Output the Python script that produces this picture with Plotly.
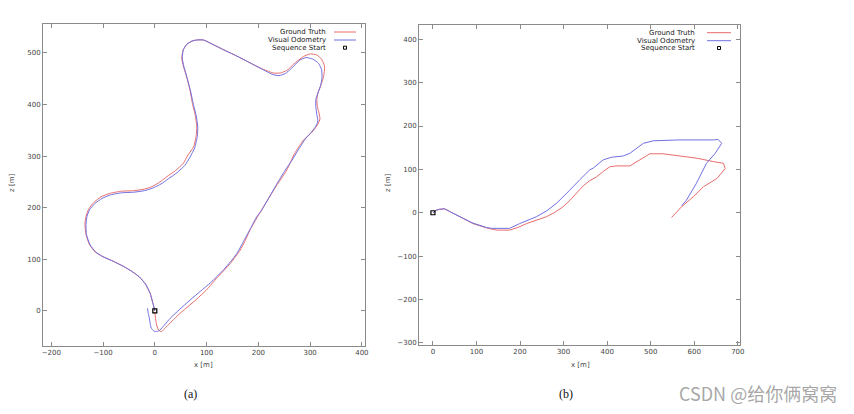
import plotly.graph_objects as go

# (a) trajectory, ground truth vs visual odometry (x, z in metres)
gt_a_x = [0, -3, -9, -18, -30, -45, -60, -80, -100, -115,
          -126, -133, -135, -133, -128, -118, -104, -86, -64, -41,
          -20, -5, 10, 23, 40, 55, 64, 75, 80, 81,
          78, 73, 68, 61, 55, 52, 55, 62, 72, 81,
          94, 113, 133, 152, 172, 191, 210, 229, 242, 255,
          268, 287, 300, 313, 322, 328, 326, 321, 315, 313,
          314, 317, 319, 315, 306, 296, 287, 270, 255, 232, 210,
          197, 184, 174, 165, 146, 120, 100, 80, 60, 45,
          36, 25, 18, 13, 7, 3, 1, 0]
gt_a_z = [0, 12, 34, 52, 66, 77, 86, 96, 105, 114,
          128, 148, 167, 183, 197, 210, 221, 228, 232, 233,
          236, 241, 250, 260, 272, 286, 302, 318, 340, 357,
          380, 400, 428, 455, 475, 490, 506, 517, 523, 525,
          525, 516, 506, 497, 487, 477, 468, 461, 461, 466,
          478, 493, 498, 496, 488, 474, 454, 438, 422, 410,
          396, 384, 372, 362, 349, 339, 331, 305, 273, 238, 202,
          180, 157, 135, 118, 92, 64, 41, 22, 5, -8,
          -17, -28, -35, -40, -37, -25, -12, -3]

vo_a_x = [0, -3, -9, -18, -30, -45, -60, -80, -100, -114,
          -125, -132, -133, -131, -126, -116, -102, -85, -63, -41,
          -20, -4, 12, 26, 43, 58, 68, 77, 82, 83,
          80, 75, 69, 62, 56, 53, 55, 62, 72, 81,
          94, 113, 133, 152, 172, 191, 210, 228, 240, 252,
          264, 280, 292, 305, 316, 322, 323, 320, 315, 311,
          311, 313, 315, 311, 302, 292, 277, 265, 252, 235,
          218, 205, 197, 185, 172, 159, 146, 133, 108, 88,
          68, 48, 30, 18, 10, 4, -2, -7, -9, -11,
          -13, -14]
vo_a_z = [0, 12, 34, 52, 66, 77, 86, 96, 105, 114,
          128, 148, 167, 183, 196, 208, 218, 225, 229, 230,
          233, 238, 246, 256, 268, 282, 298, 316, 338, 356,
          378, 398, 426, 453, 474, 490, 506, 517, 523, 525,
          525, 516, 506, 497, 487, 477, 467, 458, 456, 460,
          470, 486, 491, 488, 480, 468, 452, 436, 422, 410,
          396, 380, 368, 358, 346, 335, 312, 292, 273, 245,
          215, 193, 183, 160, 136, 112, 95, 80, 55, 38,
          21, 3, -14, -28, -37, -40, -39, -33, -24, -12,
          -3, 5]

# (b) trajectory
gt_b_x = [0, 8, 15, 27, 40, 61, 92, 123, 146, 176, 195, 215, 240, 261, 280, 299, 315, 330, 345,
          360, 376, 392, 406, 420, 452, 475, 498, 528, 567, 605, 644, 667, 671, 652, 621, 598, 571, 548]
gt_b_z = [0, 6, 8, 9, 2, -9, -25, -35, -40, -40, -34, -25, -17, -9, 1, 14, 29, 45, 62,
          74, 83, 96, 106, 108, 108, 122, 136, 136, 131, 126, 118, 114, 102, 79, 60, 37, 14, -11]

vo_b_x = [0, 8, 15, 27, 40, 61, 92, 123, 135, 176, 199, 238, 262, 284, 300, 314, 337,
          360, 368, 391, 410, 437, 452, 483, 506, 567, 644, 655, 663, 648, 628, 605, 582, 571]
vo_b_z = [0, 6, 8, 9, 2, -9, -24, -34, -36, -36, -25, -9, 5, 22, 37, 52, 76,
          99, 103, 122, 128, 131, 137, 160, 166, 168, 168, 169, 160, 137, 114, 68, 29, 16]

start_x = [0]
start_z = [0]

RED = "rgb(232,108,108)"
BLUE = "rgb(112,112,226)"
FONT = "DejaVu Sans"
OFF = 8  # page body margin
W, H = 854 - 2 * OFF, 414 - 2 * OFF


def px(x):
    return (x - OFF) / W


def py(y):
    return 1 - (y - OFF) / H


fig = go.Figure()

fig.add_trace(go.Scatter(x=gt_a_x, y=gt_a_z, mode="lines", line=dict(color=RED, width=1, shape="spline", smoothing=0.5),
                         xaxis="x", yaxis="y", showlegend=False))
fig.add_trace(go.Scatter(x=vo_a_x, y=vo_a_z, mode="lines", line=dict(color=BLUE, width=1, shape="spline", smoothing=0.5),
                         xaxis="x", yaxis="y", showlegend=False))
fig.add_trace(go.Scatter(x=start_x, y=start_z, mode="markers",
                         marker=dict(symbol="square-open", size=4, color="black", line=dict(width=1.2)),
                         xaxis="x", yaxis="y", showlegend=False))

fig.add_trace(go.Scatter(x=gt_b_x, y=gt_b_z, mode="lines", line=dict(color=RED, width=1),
                         xaxis="x2", yaxis="y2", showlegend=False))
fig.add_trace(go.Scatter(x=vo_b_x, y=vo_b_z, mode="lines", line=dict(color=BLUE, width=1),
                         xaxis="x2", yaxis="y2", showlegend=False))
fig.add_trace(go.Scatter(x=start_x, y=start_z, mode="markers",
                         marker=dict(symbol="square-open", size=4, color="black", line=dict(width=1.2)),
                         xaxis="x2", yaxis="y2", showlegend=False))

axis_style = dict(showgrid=False, zeroline=False, showline=True, linecolor="#8a8a8a", linewidth=1,
                  mirror="allticks", ticks="inside", ticklen=4, tickcolor="#8a8a8a", automargin=False,
                  tickfont=dict(family=FONT, size=7, color="#444"))

fig.update_layout(
    width=W, height=H,
    margin=dict(l=0, r=0, t=0, b=0),
    paper_bgcolor="white",
    plot_bgcolor="white",
    font=dict(family=FONT, size=7, color="#444"),
    xaxis=dict(axis_style, domain=[px(43), px(365)], range=[-216, 406], tickvals=list(range(-200, 401, 100)),
               anchor="y"),
    yaxis=dict(axis_style, domain=[py(346), py(24)], range=[-68, 556], tickvals=list(range(0, 501, 100)),
               anchor="x"),
    xaxis2=dict(axis_style, domain=[px(419), px(740)], range=[-32, 705], tickvals=list(range(0, 701, 100)),
                anchor="y2"),
    yaxis2=dict(axis_style, domain=[py(345), py(25)], range=[-305, 433], tickvals=list(range(-300, 401, 100)),
                anchor="x2"),
)

# axis titles
for txt, x, y, ang in [("x [m]", 203, 365, 0), ("z [m]", 12, 183, -90),
                       ("x [m]", 580, 365, 0), ("z [m]", 388, 183, -90)]:
    fig.add_annotation(x=px(x), y=py(y), xref="paper", yref="paper", text=txt, showarrow=False,
                       textangle=ang, xanchor="center", yanchor="middle",
                       font=dict(family=FONT, size=7, color="#444"))


# gnuplot-style keys: text right-aligned, sample on the right
def add_key(text_right, line_x0, line_x1, marker_x, rows):
    labels = ["Ground Truth", "Visual Odometry", "Sequence Start"]
    for lab, yy in zip(labels, rows):
        fig.add_annotation(x=px(text_right), y=py(yy), xref="paper", yref="paper", text=lab,
                           showarrow=False, xanchor="right", yanchor="middle",
                           font=dict(family=FONT, size=7, color="#222"))
    fig.add_shape(type="line", xref="paper", yref="paper", x0=px(line_x0), x1=px(line_x1),
                  y0=py(rows[0]), y1=py(rows[0]), line=dict(color=RED, width=1))
    fig.add_shape(type="line", xref="paper", yref="paper", x0=px(line_x0), x1=px(line_x1),
                  y0=py(rows[1]), y1=py(rows[1]), line=dict(color=BLUE, width=1))
    fig.add_shape(type="rect", xref="paper", yref="paper", x0=px(marker_x - 1.5), x1=px(marker_x + 1.5),
                  y0=py(rows[2] + 1.5), y1=py(rows[2] - 1.5), line=dict(color="black", width=1))


add_key(328, 334, 356, 345, [32, 40, 47.7])
add_key(697, 707, 731, 719, [32.7, 40.7, 48])

# sub-captions
for lab, cx in [("(a)", 190), ("(b)", 566)]:
    fig.add_annotation(x=px(cx), y=py(394), xref="paper", yref="paper", text=lab, showarrow=False,
                       xanchor="center", yanchor="middle",
                       font=dict(family="Liberation Serif", size=12, color="#111"))

fig.add_annotation(x=px(838), y=py(393), xref="paper", yref="paper", text="CSDN @给你俩窝窝",
                   showarrow=False, xanchor="right", yanchor="middle", borderpad=0,
                   font=dict(family="Noto Sans CJK SC", size=18, color="rgba(150,150,150,0.85)"))

fig.write_html("out.html")
